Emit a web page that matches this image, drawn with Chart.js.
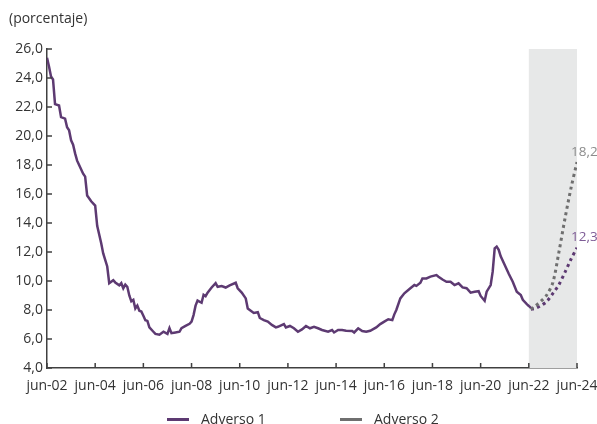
<!DOCTYPE html>
<html>
<head>
<meta charset="utf-8">
<script src="https://cdn.jsdelivr.net/npm/chart.js@4.4.1/dist/chart.umd.min.js"></script>
<style>
    html, body { margin: 0; padding: 0; background: #fff; }
    #wrap { position: relative; width: 597px; height: 424px; overflow: hidden; }
    .legend { position: absolute; top: 409px; height: 20px; line-height: 20px; font: 14px "Open Sans", sans-serif; color: #333; white-space: nowrap; }
    .legend i { display: inline-block; width: 22px; height: 3px; vertical-align: middle; margin-right: 12px; margin-top: -2px; }
</style>
</head>
<body>
<div id="wrap">
    <canvas id="stress-chart" width="597" height="424"></canvas>
    <div class="legend" style="left:167px"><i style="background:#5d3a72"></i>Adverso 1</div>
    <div class="legend" style="left:340px"><i style="background:#6f6f6f"></i>Adverso 2</div>
</div>
<script>
// months counted from jun-02 (0) to jun-24 (264)
let xTickLabels = ['jun-02', 'jun-04', 'jun-06', 'jun-08', 'jun-10', 'jun-12', 'jun-14', 'jun-16', 'jun-18', 'jun-20', 'jun-22', 'jun-24'];
let yTicks = [4, 26, 2]; // min, max, step

let histMonths = [0, 1, 2, 3, 4, 6, 7, 9, 10, 11, 12, 13, 14, 15, 16, 18, 19, 20, 22, 24, 25, 27, 28, 30, 31, 33, 34, 36, 37, 38, 39,
    40, 41, 42, 43, 44, 45, 46, 47, 48, 49, 50, 51, 53, 54, 56, 58, 60, 61, 62, 64, 66, 67, 69, 71, 72, 73, 74, 75, 77, 78, 79, 80,
    82, 84, 85, 87, 89, 91, 94, 95, 97, 99, 100, 102, 103, 105, 106, 108, 110, 112, 114, 115, 118, 119, 121, 123, 125, 127, 129,
    131, 133, 135, 137, 140, 142, 143, 145, 147, 149, 152, 153, 155, 157, 159, 161, 164, 166, 168, 170, 172, 173, 174, 176, 178,
    181, 183, 184, 186, 187, 189, 191, 194, 195, 197, 199, 201, 203, 205, 207, 209, 211, 213, 215, 216, 218, 219, 221, 222, 223,
    224, 225, 226, 228, 230, 232, 234, 236, 237, 239, 240, 241];
let histValues = [25.4, 24.8, 24.1, 23.9, 22.2, 22.1, 21.3, 21.2, 20.6, 20.4, 19.7, 19.4, 18.8, 18.3, 18.0, 17.4, 17.2, 15.9, 15.5, 15.2, 13.8, 12.6, 11.9, 11.0, 9.85, 10.05, 9.9, 9.7, 9.85, 9.5, 9.75,
    9.6, 9.0, 8.6, 8.7, 8.1, 8.3, 7.95, 7.9, 7.6, 7.3, 7.25, 6.8, 6.5, 6.35, 6.3, 6.5, 6.35, 6.75, 6.4, 6.45, 6.5, 6.75, 6.9, 7.05, 7.2, 7.65, 8.3, 8.65, 8.5, 9.05, 8.95, 9.2,
    9.55, 9.85, 9.6, 9.65, 9.55, 9.7, 9.88, 9.5, 9.2, 8.8, 8.1, 7.9, 7.8, 7.85, 7.45, 7.3, 7.2, 6.97, 6.8, 6.84, 7.03, 6.8, 6.9, 6.74, 6.5, 6.66, 6.9,
    6.74, 6.84, 6.74, 6.62, 6.5, 6.62, 6.45, 6.62, 6.62, 6.57, 6.55, 6.45, 6.74, 6.55, 6.5, 6.57, 6.8, 7.03, 7.2, 7.36, 7.3, 7.7, 8.0, 8.8, 9.15,
    9.5, 9.72, 9.66, 9.88, 10.18, 10.18, 10.3, 10.41, 10.3, 10.1, 9.95, 9.95, 9.72, 9.84, 9.56, 9.5, 9.2, 9.26, 9.3, 8.97, 8.64, 9.26, 9.72, 10.64, 12.25,
    12.37, 12.15, 11.7, 11.1, 10.5, 9.95, 9.26, 9.03, 8.7, 8.4, 8.28, 8.15];

let projMonths = [241, 243, 246, 249, 252, 255, 258, 261, 264];
let adverso1Proj = [8.05, 8.1, 8.3, 8.6, 9.15, 9.75, 10.6, 11.5, 12.3];
let adverso2Proj = [8.05, 8.25, 8.6, 9.05, 9.9, 12.0, 14.3, 16.4, 18.2];

let shadeFrom = 240, shadeTo = 264;

let purple = '#5d3a72';
let gray = '#6f6f6f';
let axisColor = '#404040';
let textColor = '#333333';

function toPoints(xs, ys) {
    return xs.map((x, i) => ({ x: x, y: ys[i] }));
}

const extrasPlugin = {
    id: 'extras',
    beforeDatasetsDraw(chart) {
        const { ctx, chartArea, scales } = chart;
        let x0 = scales.x.getPixelForValue(shadeFrom);
        let x1 = scales.x.getPixelForValue(shadeTo);
        ctx.save();
        ctx.fillStyle = '#e7e8e8';
        ctx.fillRect(x0, chartArea.top, x1 - x0, chartArea.bottom - chartArea.top);
        ctx.restore();
    },
    afterDraw(chart) {
        const { ctx, chartArea, scales } = chart;
        ctx.save();
        // inward tick marks
        ctx.strokeStyle = axisColor;
        ctx.lineWidth = 1.5;
        ctx.beginPath();
        scales.y.ticks.forEach(t => {
            let py = scales.y.getPixelForValue(t.value);
            ctx.moveTo(chartArea.left, py);
            ctx.lineTo(chartArea.left + 5, py);
        });
        scales.x.ticks.forEach(t => {
            let px = scales.x.getPixelForValue(t.value);
            ctx.moveTo(px, chartArea.bottom);
            ctx.lineTo(px, chartArea.bottom - 5);
        });
        ctx.stroke();

        // unit label
        ctx.font = '14px "Open Sans", sans-serif';
        ctx.fillStyle = textColor;
        ctx.textBaseline = 'middle';
        ctx.textAlign = 'left';
        ctx.fillText('(porcentaje)', 9, 19);

        // end values
        ctx.font = '13.5px "Open Sans", sans-serif';
        let last = projMonths.length - 1;
        let ex = scales.x.getPixelForValue(projMonths[last]);
        ctx.fillStyle = '#8c8c8c';
        ctx.fillText(String(adverso2Proj[last]).replace('.', ','), ex - 6, scales.y.getPixelForValue(adverso2Proj[last]) - 10);
        ctx.fillStyle = '#7e5c96';
        ctx.fillText(String(adverso1Proj[last]).replace('.', ','), ex - 6, scales.y.getPixelForValue(adverso1Proj[last]) - 10);
        ctx.restore();
    }
};

const ctx = document.getElementById('stress-chart').getContext('2d');
const stressChart = new Chart(ctx, {
    type: 'line',
    data: {
        datasets: [{
            label: 'Adverso 1',
            data: toPoints(histMonths, histValues),
            borderColor: purple,
            borderWidth: 2.5,
            fill: false,
            tension: 0,
            pointRadius: 0
        },
        {
            label: 'Adverso 2',
            data: toPoints(projMonths, adverso2Proj),
            borderColor: gray,
            borderWidth: 3,
            borderDash: [3, 3.5],
            borderCapStyle: 'butt',
            fill: false,
            tension: 0.3,
            pointRadius: 0
        },
        {
            label: 'Adverso 1 proyección',
            data: toPoints(projMonths, adverso1Proj),
            borderColor: purple,
            borderWidth: 3,
            borderDash: [3, 3.5],
            borderCapStyle: 'butt',
            fill: false,
            tension: 0.3,
            pointRadius: 0
        }]
    },
    options: {
        responsive: false,
        animation: false,
        devicePixelRatio: 1,
        layout: {
            padding: { top: 49, right: 20, bottom: 26, left: 0 }
        },
        scales: {
            x: {
                type: 'linear',
                min: 0,
                max: 264,
                grid: { display: false, drawTicks: false },
                border: { display: true, color: axisColor, width: 1.5 },
                afterFit: scale => {
                    scale.height = 30;
                    scale.paddingLeft = 0;
                    scale.paddingRight = 0;
                },
                ticks: {
                    stepSize: 24,
                    autoSkip: false,
                    maxRotation: 0,
                    padding: 10,
                    color: textColor,
                    font: { family: '"Open Sans", sans-serif', size: 14 },
                    callback: v => xTickLabels[v / 24]
                }
            },
            y: {
                min: yTicks[0],
                max: yTicks[1],
                grid: { display: false, drawTicks: false },
                border: { display: true, color: axisColor, width: 1.5 },
                afterFit: scale => { scale.width = 47; },
                ticks: {
                    stepSize: yTicks[2],
                    padding: 4,
                    color: textColor,
                    font: { family: '"Open Sans", sans-serif', size: 14 },
                    callback: v => v.toFixed(1).replace('.', ',')
                }
            }
        },
        plugins: {
            legend: { display: false },
            tooltip: { enabled: false }
        }
    },
    plugins: [extrasPlugin]
});
</script>
</body>
</html>
